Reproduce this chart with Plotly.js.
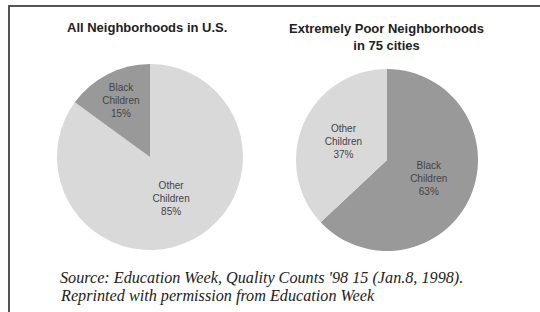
<!DOCTYPE html>
<html>
<head>
<meta charset="utf-8">
<script src="https://cdn.plot.ly/plotly-3.0.1.min.js"></script>
<style>html,body{margin:0;padding:0;background:#fff;}#chart{width:540px;height:312px;}</style>
</head>
<body>
<div id="chart"></div>
<script>
const leftTitle = "All Neighborhoods in U.S.";
const rightTitle = "Extremely Poor Neighborhoods<br>in 75 cities";
const leftLabels = ["Other Children", "Black Children"];
const leftValues = [85, 15];
const rightLabels = ["Black Children", "Other Children"];
const rightValues = [63, 37];
const sourceLines = ["Source: Education Week, Quality Counts '98 15 (Jan.8, 1998).", "Reprinted with permission from Education Week"];

const BLACK_COLOR = "#999999";
const OTHER_COLOR = "#d9d9d9";
const colorFor = l => l.startsWith("Black") ? BLACK_COLOR : OTHER_COLOR;
const textFor = (labels, values) => labels.map((l, i) => l.replace(" ", "<br>") + "<br>" + values[i] + "%");

const W = 540, H = 312;
function dom(cx, cy, r) {
  return {x: [(cx - r) / W, (cx + r) / W], y: [(H - cy - r) / H, (H - cy + r) / H]};
}

const common = {
  type: "pie", sort: false, direction: "clockwise", rotation: 0,
  textinfo: "text", textposition: "inside", insidetextorientation: "horizontal",
  hoverinfo: "none", showlegend: false,
  insidetextfont: {family: "Liberation Sans, Arial, sans-serif", size: 10, color: "#444"}
};

const data = [
  Object.assign({}, common, {
    labels: leftLabels, values: leftValues,
    text: textFor(leftLabels, leftValues),
    marker: {colors: leftLabels.map(colorFor), line: {width: 0}},
    domain: dom(150, 157, 93)
  }),
  Object.assign({}, common, {
    labels: rightLabels, values: rightValues,
    text: textFor(rightLabels, rightValues),
    marker: {colors: rightLabels.map(colorFor), line: {width: 0}},
    domain: dom(387, 160, 91)
  })
];

const titleFont = {family: "Liberation Sans Narrow, Arial Narrow, sans-serif", size: 13, color: "#222", weight: "bold"};
const srcFont = {family: "Liberation Serif, Times New Roman, serif", size: 16.2, color: "#222"};

const layout = {
  width: W, height: H,
  margin: {l: 0, r: 0, t: 0, b: 0},
  paper_bgcolor: "#fff",
  annotations: [
    {text: "<b>" + leftTitle + "</b>", xref: "paper", yref: "paper", x: 147 / W, y: 1 - 27 / H, xanchor: "center", yanchor: "middle", showarrow: false, font: titleFont},
    {text: "<b>" + rightTitle + "</b>", xref: "paper", yref: "paper", x: 386 / W, y: 1 - 37 / H, xanchor: "center", yanchor: "middle", showarrow: false, font: titleFont},
    {text: "<i>" + sourceLines[0] + "</i>", xref: "paper", yref: "paper", x: 58 / W, y: 1 - 278 / H, xanchor: "left", yanchor: "middle", align: "left", showarrow: false, font: srcFont},
    {text: "<i>" + sourceLines[1] + "</i>", xref: "paper", yref: "paper", x: 58 / W, y: 1 - 296 / H, xanchor: "left", yanchor: "middle", align: "left", showarrow: false, font: srcFont}
  ],
  shapes: [
    {type: "line", xref: "paper", yref: "paper", x0: 9 / W, x1: 1, y0: 1 - 6 / H, y1: 1 - 6 / H, line: {color: "#555", width: 2}},
    {type: "line", xref: "paper", yref: "paper", x0: 9 / W, x1: 9 / W, y0: 0, y1: 1 - 5 / H, line: {color: "#555", width: 2}}
  ]
};

Plotly.newPlot("chart", data, layout, {staticPlot: true, displayModeBar: false});
</script>
</body>
</html>
